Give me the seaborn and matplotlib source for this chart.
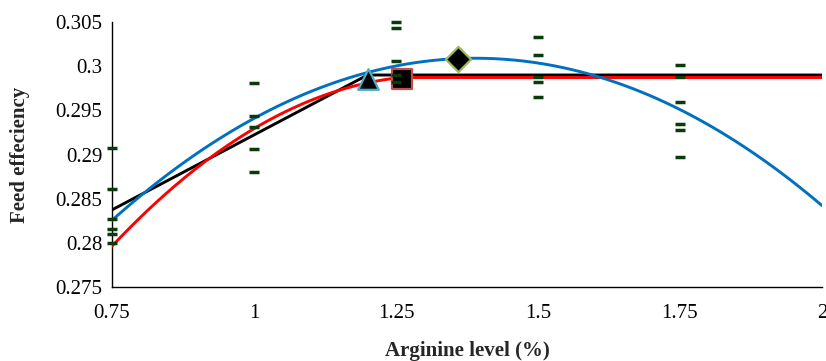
import matplotlib
matplotlib.use("Agg")

import matplotlib.pyplot as plt
import seaborn as sns

# -------------------------------------------------------
# DATA
# -------------------------------------------------------

# observed feed efficiency per arginine level
obs_x = [0.75] * 6 + [1.0] * 5 + [1.25] * 5 + [1.5] * 5 + [1.75] * 6
obs_y = [
    0.29078, 0.28611, 0.28271, 0.28158, 0.28102, 0.28003,
    0.29807, 0.29437, 0.29309, 0.29060, 0.28807,
    0.30503, 0.30436, 0.30062, 0.29900, 0.29825,
    0.30330, 0.30127, 0.29874, 0.29825, 0.29655,
    0.30010, 0.29881, 0.29592, 0.29346, 0.29278, 0.28976,
]

# quadratic fit (blue)
quad_x = [0.75, 0.875, 1.0, 1.125, 1.25, 1.375, 1.5, 1.625, 1.75, 1.875, 2.0]
quad_y = [0.28255, 0.28902, 0.29409, 0.29775, 0.30002, 0.30089, 0.30036,
          0.29843, 0.29509, 0.29036, 0.28423]

# quadratic-plateau fit (red): curved part, then plateau
qp_x = [0.75, 0.875, 1.0, 1.125, 1.26]
qp_y = [0.27962, 0.28722, 0.29292, 0.29674, 0.29872]
plateau_red_x = [1.26, 2.0]
plateau_red_y = [0.29872, 0.29872]

# broken-line fit (black)
bl_x = [0.75, 1.2, 2.0]
bl_y = [0.28373, 0.29900, 0.29900]

# break points / maximum
tri_x, tri_y = [1.2], [0.2986]
sq_x, sq_y = [1.26], [0.2986]
dia_x, dia_y = [1.36], [0.3008]

x_ticks = [0.75, 1.0, 1.25, 1.5, 1.75, 2.0]
x_labels = ["0.75", "1", "1.25", "1.5", "1.75", "2"]
y_ticks = [0.275, 0.28, 0.285, 0.29, 0.295, 0.3, 0.305]
y_labels = ["0.275", "0.28", "0.285", "0.29", "0.295", "0.3", "0.305"]

# -------------------------------------------------------
# FIGURE
# -------------------------------------------------------

sns.set_theme(style="white")
plt.rcParams["font.family"] = ["Liberation Serif", "DejaVu Serif"]

fig = plt.figure(figsize=(8.26, 3.61), dpi=100)
ax = fig.add_axes([0.1356, 0.205, 0.8594, 0.734])

lw = 2.1

sns.lineplot(x=bl_x, y=bl_y, color="black", linewidth=lw, ax=ax,
             sort=False, estimator=None, zorder=2)

# red curve: seaborn's own 2nd-order fit through the read points
sns.regplot(x=qp_x, y=qp_y, order=2, ci=None, scatter=False, truncate=True,
            line_kws={"color": "#FF0000", "linewidth": lw, "zorder": 3}, ax=ax)
sns.lineplot(x=plateau_red_x, y=plateau_red_y, color="#FF0000", linewidth=lw,
             ax=ax, sort=False, estimator=None, zorder=3)

# blue curve
sns.regplot(x=quad_x, y=quad_y, order=2, ci=None, scatter=False, truncate=True,
            line_kws={"color": "#0070C0", "linewidth": lw, "zorder": 4}, ax=ax)

sns.scatterplot(x=tri_x, y=tri_y, marker="^", s=220, color="black",
                edgecolor="#4BACC6", linewidth=1.6, ax=ax, zorder=5)
sns.scatterplot(x=sq_x, y=sq_y, marker="s", s=190, color="black",
                edgecolor="#C0504D", linewidth=1.6, ax=ax, zorder=5)
sns.scatterplot(x=dia_x, y=dia_y, marker="D", s=165, color="black",
                edgecolor="#9BBB59", linewidth=1.6, ax=ax, zorder=5)

sns.scatterplot(x=obs_x, y=obs_y, marker="_", s=62, color="#0B3A0B",
                linewidth=2.5, ax=ax, zorder=6, clip_on=False)

ax.set_xlim(0.75, 2.0)
ax.set_ylim(0.275, 0.305)
ax.set_xticks(x_ticks)
ax.set_xticklabels(x_labels)
ax.set_yticks(y_ticks)
ax.set_yticklabels(y_labels)

ax.tick_params(axis="both", direction="out", length=4, width=1,
               color="black", labelsize=15, labelcolor="black")
ax.tick_params(axis="x", pad=8)
ax.tick_params(axis="y", pad=3)

sns.despine(ax=ax)
for side in ["left", "bottom"]:
    ax.spines[side].set_color("black")
    ax.spines[side].set_linewidth(1.0)

ax.set_xlabel("Arginine level (%)", fontsize=15, fontweight="bold", labelpad=13)
ax.set_ylabel("Feed effeciency", fontsize=15, fontweight="bold", labelpad=18)
ax.grid(False)

fig.savefig("out.png", dpi=100)
plt.close(fig)
